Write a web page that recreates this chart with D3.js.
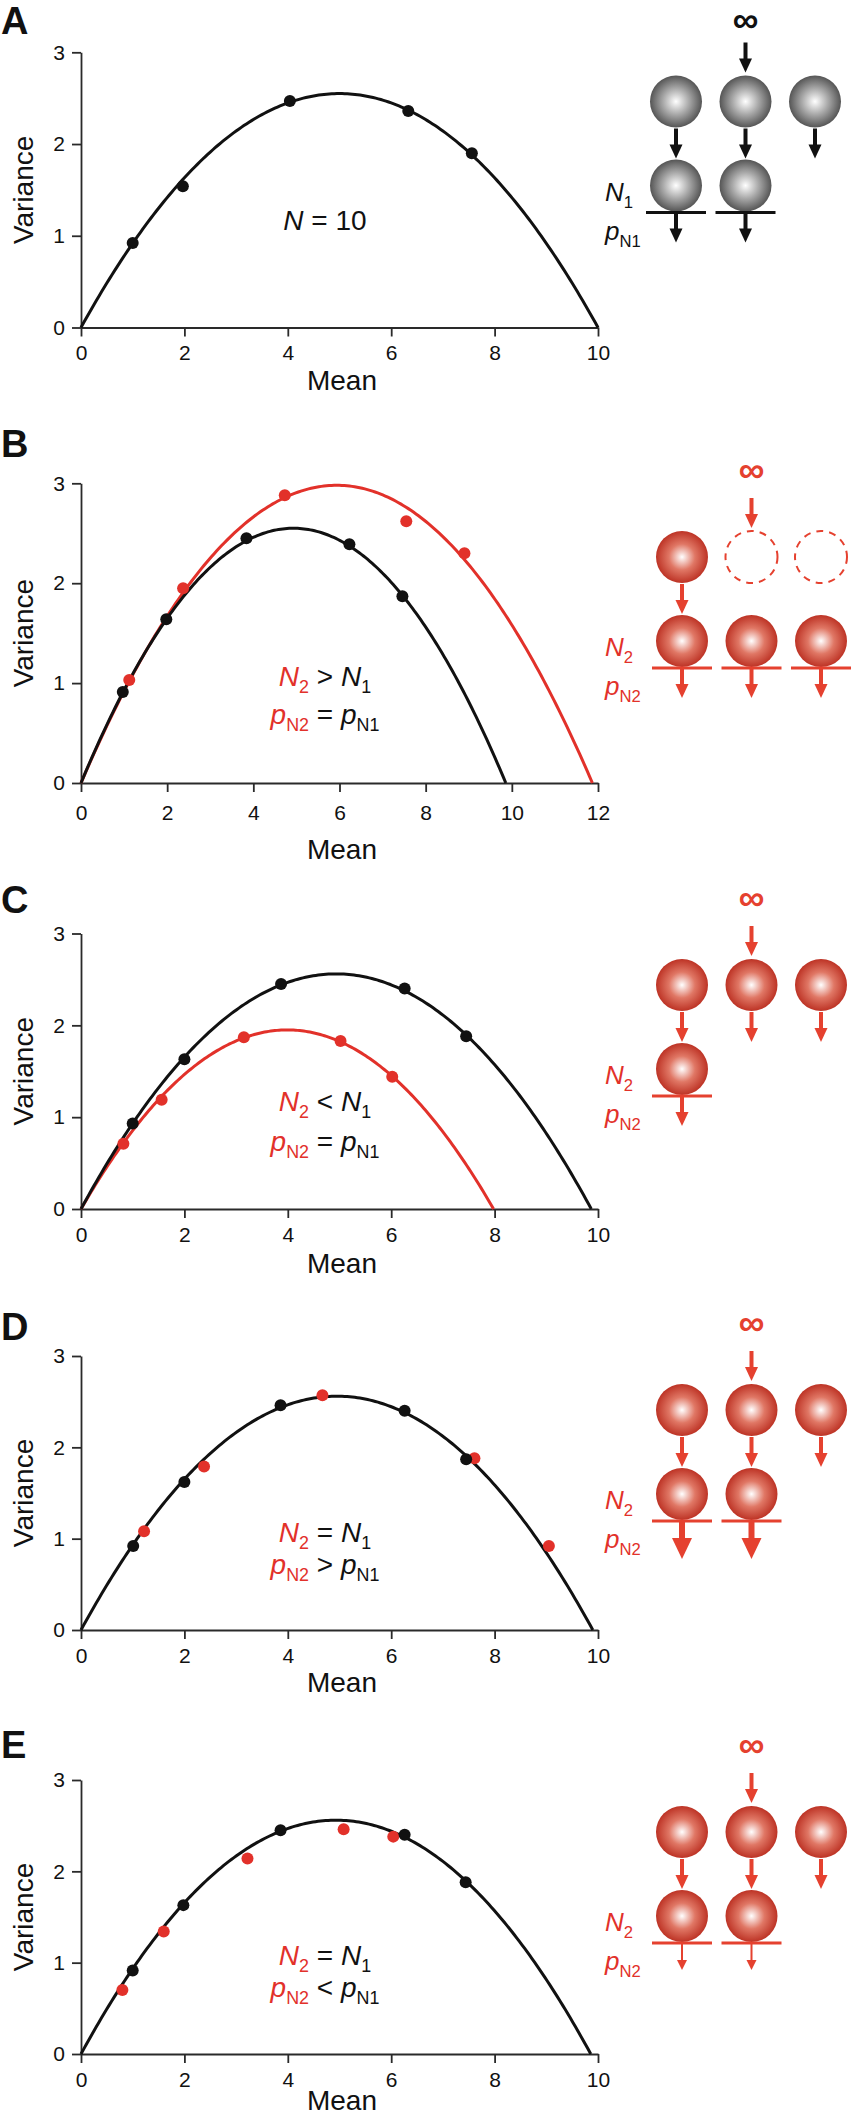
<!DOCTYPE html>
<html>
<head>
<meta charset="utf-8">
<script src="https://cdn.jsdelivr.net/npm/d3@7"></script>
<style>
  body { margin: 0; background: #fff; }
  svg text { font-family: "Liberation Sans", Arial, sans-serif; }
</style>
</head>
<body>
<div id="chart"></div>
<script>
// values: mean / variance of each series
const aBlackMean = [1.00, 1.97, 4.04, 6.33, 7.56];
const aBlackVar  = [0.92, 1.54, 2.47, 2.36, 1.90];

const bBlackMean = [0.97, 1.98, 3.84, 6.23, 7.46];
const bBlackVar  = [0.91, 1.64, 2.45, 2.39, 1.87];
const bRedMean   = [1.12, 2.37, 4.73, 7.55, 8.90];
const bRedVar    = [1.03, 1.95, 2.88, 2.62, 2.30];

const cBlackMean = [1.00, 2.00, 3.87, 6.26, 7.45];
const cBlackVar  = [0.93, 1.63, 2.45, 2.40, 1.88];
const cRedMean   = [0.82, 1.56, 3.15, 5.02, 6.02];
const cRedVar    = [0.71, 1.19, 1.87, 1.83, 1.44];

const dBlackMean = [1.01, 2.00, 3.86, 6.26, 7.45];
const dBlackVar  = [0.92, 1.62, 2.46, 2.40, 1.87];
const dRedMean   = [1.22, 2.38, 4.67, 7.61, 9.05];
const dRedVar    = [1.08, 1.79, 2.57, 1.88, 0.92];

const eBlackMean = [1.00, 1.98, 3.86, 6.26, 7.44];
const eBlackVar  = [0.915, 1.63, 2.45, 2.40, 1.88];
const eRedMean   = [0.80, 1.60, 3.22, 5.08, 6.04];
const eRedVar    = [0.70, 1.34, 2.14, 2.46, 2.38];

// parabola fits (x-intercept, peak variance)
const blackFitRoot = [10.0, 9.86, 9.87, 9.90, 9.86];
const blackFitPeak = [2.55, 2.55, 2.56, 2.56, 2.56];
const redFitRoot   = [null, 11.87, 7.98, null, null];
const redFitPeak   = [null, 2.98, 1.95, null, null];

const panelIds = ['A', 'B', 'C', 'D', 'E'];
const xMax = [10, 12, 10, 10, 10];
const xTicks = [[0, 2, 4, 6, 8, 10], [0, 2, 4, 6, 8, 10, 12], [0, 2, 4, 6, 8, 10], [0, 2, 4, 6, 8, 10], [0, 2, 4, 6, 8, 10]];
const yTicks = [0, 1, 2, 3];

const blackMean = [aBlackMean, bBlackMean, cBlackMean, dBlackMean, eBlackMean];
const blackVar = [aBlackVar, bBlackVar, cBlackVar, dBlackVar, eBlackVar];
const redMean = [null, bRedMean, cRedMean, dRedMean, eRedMean];
const redVar = [null, bRedVar, cRedVar, dRedVar, eRedVar];

// annotation texts: [text, italic, red, subscript]
const notes = [
  [[['N', 1, 0, 0], [' = 10', 0, 0, 0]]],
  [[['N', 1, 1, 0], ['2', 0, 1, 1], [' > ', 0, 0, 0], ['N', 1, 0, 0], ['1', 0, 0, 1]],
   [['p', 1, 1, 0], ['N2', 0, 1, 1], [' = ', 0, 0, 0], ['p', 1, 0, 0], ['N1', 0, 0, 1]]],
  [[['N', 1, 1, 0], ['2', 0, 1, 1], [' < ', 0, 0, 0], ['N', 1, 0, 0], ['1', 0, 0, 1]],
   [['p', 1, 1, 0], ['N2', 0, 1, 1], [' = ', 0, 0, 0], ['p', 1, 0, 0], ['N1', 0, 0, 1]]],
  [[['N', 1, 1, 0], ['2', 0, 1, 1], [' = ', 0, 0, 0], ['N', 1, 0, 0], ['1', 0, 0, 1]],
   [['p', 1, 1, 0], ['N2', 0, 1, 1], [' > ', 0, 0, 0], ['p', 1, 0, 0], ['N1', 0, 0, 1]]],
  [[['N', 1, 1, 0], ['2', 0, 1, 1], [' = ', 0, 0, 0], ['N', 1, 0, 0], ['1', 0, 0, 1]],
   [['p', 1, 1, 0], ['N2', 0, 1, 1], [' < ', 0, 0, 0], ['p', 1, 0, 0], ['N1', 0, 0, 1]]]
];

// schematic: top row, arrows out of top row, bottom row, bottom arrow style
const iconTop = [['ball', 'ball', 'ball'], ['ball', 'dash', 'dash'], ['ball', 'ball', 'ball'], ['ball', 'ball', 'ball'], ['ball', 'ball', 'ball']];
const iconDrop = [[0, 1, 2], [0], [0, 1, 2], [0, 1, 2], [0, 1, 2]];
const iconBottom = [[0, 1], [0, 1, 2], [0], [0, 1], [0, 1]];
const iconOut = ['normal', 'normal', 'normal', 'thick', 'thin'];
const iconSub = ['1', '2', '2', '2', '2'];

// ---- layout ----
const W = 854, H = 2117;
const RED = '#e2312a', ICON_RED = '#e5412f';
const x0 = 81, x1 = 598;
const layout = [
  { top: 52.3, bottom: 327.5, pad: 9, titleDy: 62, letter: 34, inf: 13.5, infText: 19, col: 676, notes: [230] },
  { top: 483.3, bottom: 783, pad: 13, titleDy: 76, letter: 457, inf: 469, infText: 469, col: 682, notes: [686, 724] },
  { top: 933.5, bottom: 1209, pad: 9, titleDy: 64, letter: 913, inf: 897, infText: 897, col: 682, notes: [1111, 1151] },
  { top: 1356, bottom: 1630, pad: 9, titleDy: 62, letter: 1340, inf: 1322, infText: 1322, col: 682, notes: [1542, 1574] },
  { top: 1780, bottom: 2054, pad: 9, titleDy: 56, letter: 1758, inf: 1744, infText: 1744, col: 682, notes: [1965, 1997] }
];
const arrowStyles = {
  normal: { w: 4, hw: 13, hl: 14, len: 30 },
  thick: { w: 6, hw: 20, hl: 21, len: 38 },
  thin: { w: 2, hw: 10, hl: 10, len: 27 }
};

const svg = d3.select('#chart').append('svg')
    .attr('width', W)
    .attr('height', H);

const defs = svg.append('defs');
[['grayBall', '#ffffff', '#a9a9a9', '#555555'], ['redBall', '#ffffff', '#e07765', '#bd3325']].forEach(g => {
  const rg = defs.append('radialGradient').attr('id', g[0])
      .attr('cx', '50%').attr('cy', '50%').attr('r', '50%');
  rg.append('stop').attr('offset', '0%').attr('stop-color', g[1]);
  rg.append('stop').attr('offset', '50%').attr('stop-color', g[2]);
  rg.append('stop').attr('offset', '100%').attr('stop-color', g[3]);
});

function richText(g, x, y, parts, size, anchor) {
  const t = g.append('text')
      .attr('x', x).attr('y', y)
      .attr('text-anchor', anchor)
      .attr('font-size', size)
      .style('white-space', 'pre');
  let shift = 0;
  parts.forEach(p => {
    const want = p[3] ? 7 : 0;
    t.append('tspan')
        .attr('dy', want - shift)
        .attr('font-size', p[3] ? size * 0.64 : size)
        .attr('font-style', p[1] ? 'italic' : 'normal')
        .attr('fill', p[2] ? RED : '#111')
        .text(p[0]);
    shift = want;
  });
}

function arrow(g, x, y, style, color) {
  const s = arrowStyles[style];
  g.append('line')
      .attr('x1', x).attr('x2', x)
      .attr('y1', y).attr('y2', y + s.len - s.hl + 1)
      .attr('stroke', color).attr('stroke-width', s.w);
  g.append('path')
      .attr('d', `M${x - s.hw / 2},${y + s.len - s.hl} L${x + s.hw / 2},${y + s.len - s.hl} L${x},${y + s.len} Z`)
      .attr('fill', color);
}

panelIds.forEach((id, i) => {
  const L = layout[i];
  const g = svg.append('g');

  const xScale = d3.scaleLinear().domain([0, xMax[i]]).range([x0, x1]);
  const yScale = d3.scaleLinear().domain([0, 3]).range([L.bottom, L.top]);

  // panel letter
  g.append('text')
      .attr('x', 1).attr('y', L.letter)
      .attr('font-size', 38).attr('font-weight', 'bold')
      .attr('fill', '#111')
      .text(id);

  const xAxisG = g.append('g')
      .attr('transform', `translate(0,${L.bottom})`)
      .call(d3.axisBottom(xScale).tickValues(xTicks[i]).tickFormat(d3.format('d'))
        .tickSize(9).tickSizeOuter(0).tickPadding(L.pad));
  const yAxisG = g.append('g')
      .attr('transform', `translate(${x0},0)`)
      .call(d3.axisLeft(yScale).tickValues(yTicks).tickFormat(d3.format('d'))
        .tickSize(9).tickSizeOuter(0).tickPadding(7));

  [xAxisG, yAxisG].forEach(a => {
    a.attr('font-size', 21).attr('font-family', '"Liberation Sans", Arial, sans-serif');
    a.selectAll('path, line').attr('stroke', '#2a2a2a').attr('stroke-width', 1.8);
    a.selectAll('text').attr('fill', '#111');
  });

  g.append('text')
      .attr('x', 342).attr('y', L.bottom + L.titleDy)
      .attr('text-anchor', 'middle')
      .attr('font-size', 28).attr('fill', '#111')
      .text('Mean');

  g.append('text')
      .attr('transform', `translate(33,${(L.top + L.bottom) / 2}) rotate(-90)`)
      .attr('text-anchor', 'middle')
      .attr('font-size', 28).attr('fill', '#111')
      .text('Variance');

  // fitted parabolas
  const line = d3.line().x(d => xScale(d[0])).y(d => yScale(d[1]));
  const fit = (root, peak) => d3.range(0, 201).map(k => {
    const m = root * k / 200;
    return [m, 4 * peak * m * (root - m) / (root * root)];
  });
  if (redFitRoot[i] !== null) {
    g.append('path')
        .attr('d', line(fit(redFitRoot[i], redFitPeak[i])))
        .attr('fill', 'none').attr('stroke', RED).attr('stroke-width', 3);
  }
  g.append('path')
      .attr('d', line(fit(blackFitRoot[i], blackFitPeak[i])))
      .attr('fill', 'none').attr('stroke', '#111').attr('stroke-width', 3);

  if (redMean[i]) {
    g.append('g').selectAll('circle')
      .data(redMean[i].map((m, k) => [m, redVar[i][k]]))
      .enter().append('circle')
        .attr('cx', d => xScale(d[0]))
        .attr('cy', d => yScale(d[1]))
        .attr('r', 6)
        .attr('fill', RED);
  }
  g.append('g').selectAll('circle')
    .data(blackMean[i].map((m, k) => [m, blackVar[i][k]]))
    .enter().append('circle')
      .attr('cx', d => xScale(d[0]))
      .attr('cy', d => yScale(d[1]))
      .attr('r', 6)
      .attr('fill', '#111');

  notes[i].forEach((parts, k) => richText(g, 325, L.notes[k], parts, 28, 'middle'));

  // schematic on the right
  const ic = svg.append('g');
  const col = c => L.col + c * 69.5;
  const isRed = i > 0;
  const color = isRed ? ICON_RED : '#111';
  const fillBall = isRed ? 'url(#redBall)' : 'url(#grayBall)';
  const r = 26;

  ic.append('text')
      .attr('x', col(1)).attr('y', L.infText)
      .attr('text-anchor', 'middle').attr('dominant-baseline', 'central')
      .attr('font-size', 36).attr('font-weight', 'bold')
      .attr('fill', color)
      .text('∞');
  arrow(ic, col(1), L.inf + 29, 'normal', color);

  iconTop[i].forEach((kind, c) => {
    const c2 = ic.append('circle')
        .attr('cx', col(c)).attr('cy', L.inf + 88).attr('r', r);
    if (kind === 'ball') c2.attr('fill', fillBall);
    else c2.attr('fill', 'none').attr('stroke', color).attr('stroke-width', 2).attr('stroke-dasharray', '7,6');
  });
  iconDrop[i].forEach(c => arrow(ic, col(c), L.inf + 115, 'normal', color));

  iconBottom[i].forEach(c => {
    ic.append('circle')
        .attr('cx', col(c)).attr('cy', L.inf + 172).attr('r', r)
        .attr('fill', fillBall);
    ic.append('line')
        .attr('x1', col(c) - 30).attr('x2', col(c) + 30)
        .attr('y1', L.inf + 199).attr('y2', L.inf + 199)
        .attr('stroke', color).attr('stroke-width', 3.2);
    arrow(ic, col(c), L.inf + 199, iconOut[i], color);
  });

  const lab = isRed ? 1 : 0;
  richText(ic, 605, L.inf + 187, [['N', 1, lab, 0], [iconSub[i], 0, lab, 1]], 26, 'start');
  richText(ic, 605, L.inf + 226, [['p', 1, lab, 0], ['N' + iconSub[i], 0, lab, 1]], 26, 'start');
});
</script>
</body>
</html>
